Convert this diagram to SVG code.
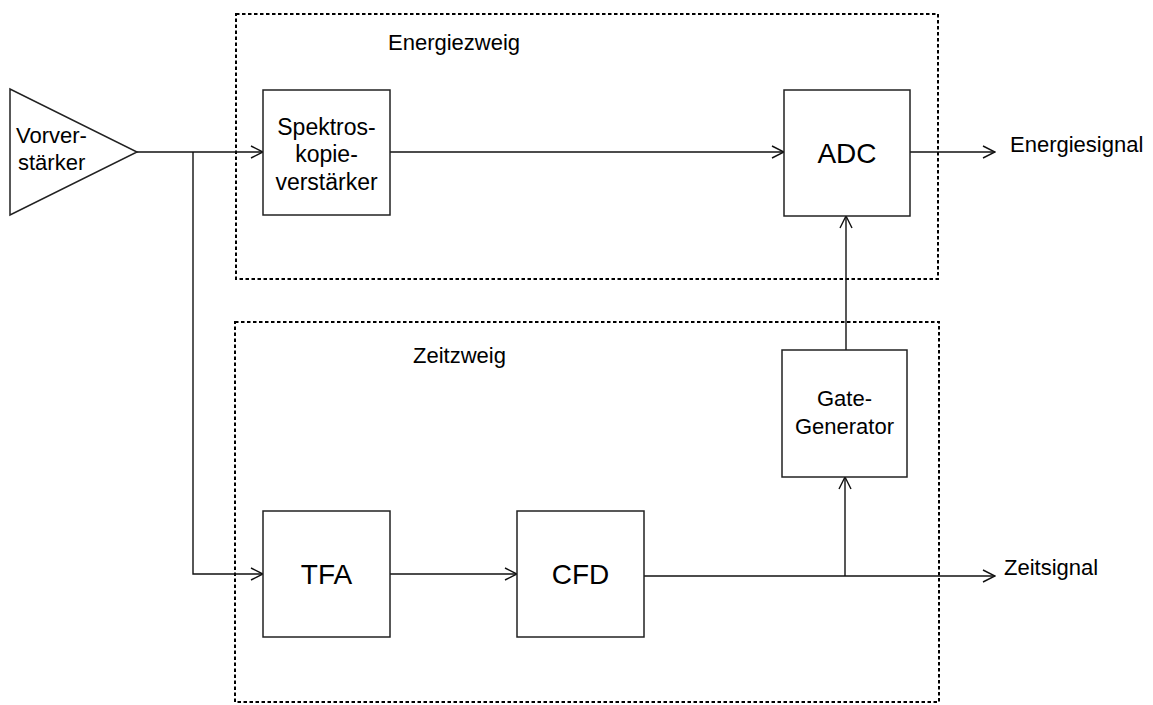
<svg xmlns="http://www.w3.org/2000/svg" width="1153" height="705" viewBox="0 0 1153 705">
<defs>
<style>
.box{fill:#fff;stroke:#222;stroke-width:1.5}
.grp{fill:none;stroke:#000;stroke-width:2;stroke-dasharray:3.5,2.5}
.ln{fill:none;stroke:#111;stroke-width:1.4}
text{font-family:"Liberation Sans",Arial,sans-serif;font-size:22px;fill:#000}
.big{font-size:28px}
.m{font-size:23px}
</style>
<marker id="arr" viewBox="0 0 14 14" refX="13" refY="7" markerWidth="14" markerHeight="14" markerUnits="userSpaceOnUse" orient="auto">
<path d="M1,1 L13,7 L1,13" fill="none" stroke="#111" stroke-width="1.4"/>
</marker>
</defs>
<rect width="1153" height="705" fill="#fff"/>
<g id="energiezweig">
<rect class="grp" x="236" y="14" width="702" height="265"/>
<text x="388" y="50">Energiezweig</text>
</g>
<g id="zeitzweig">
<rect class="grp" x="235" y="322" width="704" height="380"/>
<text x="413" y="363">Zeitzweig</text>
</g>
<g id="connectors">
<path class="ln" d="M137,152 H263" marker-end="url(#arr)"/>
<path class="ln" d="M193,152 V574 H263" marker-end="url(#arr)"/>
<path class="ln" d="M390,152 H784" marker-end="url(#arr)"/>
<path class="ln" d="M910,152 H995" marker-end="url(#arr)"/>
<path class="ln" d="M390,574 H517" marker-end="url(#arr)"/>
<path class="ln" d="M644,576 H995" marker-end="url(#arr)"/>
<path class="ln" d="M845,576 V477" marker-end="url(#arr)"/>
<path class="ln" d="M846,350 V216" marker-end="url(#arr)"/>
</g>
<g id="vorverstaerker">
<polygon class="box" points="10,89 10,215 137,152"/>
<text x="16" y="143">Vorver-</text>
<text x="18" y="170">stärker</text>
</g>
<g id="spektroskopieverstaerker">
<rect class="box" x="263" y="90" width="127" height="125"/>
<text class="m" x="326.5" y="135" text-anchor="middle">Spektros-</text>
<text class="m" x="326.5" y="162" text-anchor="middle">kopie-</text>
<text class="m" x="326.5" y="190" text-anchor="middle">verstärker</text>
</g>
<g id="adc">
<rect class="box" x="784" y="90" width="126" height="126"/>
<text class="big" x="847" y="163" text-anchor="middle">ADC</text>
</g>
<g id="energiesignal">
<text x="1010" y="152">Energiesignal</text>
</g>
<g id="gategenerator">
<rect class="box" x="782" y="350" width="125" height="127"/>
<text x="844.5" y="406" text-anchor="middle">Gate-</text>
<text x="844.5" y="434" text-anchor="middle">Generator</text>
</g>
<g id="tfa">
<rect class="box" x="263" y="511" width="127" height="126"/>
<text class="big" x="326.5" y="584" text-anchor="middle">TFA</text>
</g>
<g id="cfd">
<rect class="box" x="517" y="511" width="127" height="126"/>
<text class="big" x="580.5" y="584" text-anchor="middle">CFD</text>
</g>
<g id="zeitsignal">
<text x="1004" y="575">Zeitsignal</text>
</g>
</svg>
